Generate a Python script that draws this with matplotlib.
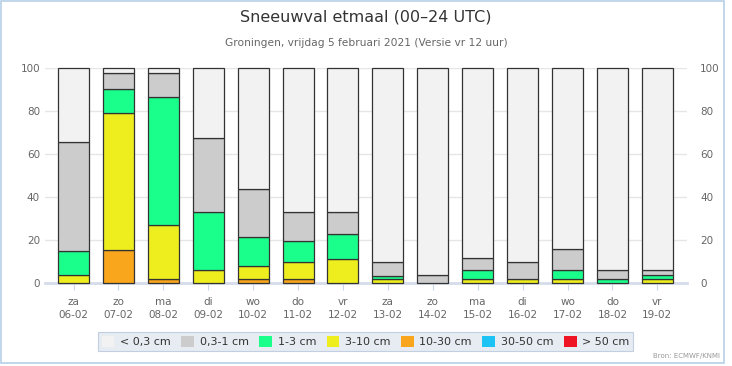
import matplotlib.pyplot as plt
import numpy as np
from matplotlib.patches import Patch, Rectangle

DAYS = ["za", "zo", "ma", "di", "wo", "do", "vr", "za", "zo", "ma", "di", "wo", "do", "vr"]
DATES = ["06-02", "07-02", "08-02", "09-02", "10-02", "11-02", "12-02",
         "13-02", "14-02", "15-02", "16-02", "17-02", "18-02", "19-02"]

# percentage per class, per day
LT_03 = [34.5, 2, 2, 32.5, 56, 67, 67, 90, 96, 88, 90, 84, 94, 94]
CM_03_1 = [50.5, 7.5, 11.5, 34.5, 22.5, 13.5, 10, 6.5, 4, 6, 8, 10, 4, 2]
CM_1_3 = [11, 11.5, 59.5, 27, 13.5, 9.5, 11.5, 1.5, 0, 4, 0, 4, 2, 2]
CM_3_10 = [4, 63.5, 25, 6, 6, 8, 11.5, 2, 0, 2, 2, 2, 0, 2]
CM_10_30 = [0, 15.5, 2, 0, 2, 2, 0, 0, 0, 0, 0, 0, 0, 0]
CM_30_50 = [0] * 14
GT_50 = [0] * 14

CLASS_LABELS = ["< 0,3 cm", "0,3-1 cm", "1-3 cm", "3-10 cm", "10-30 cm", "30-50 cm", "> 50 cm"]
CLASS_COLORS = ["#f2f2f2", "#cccccc", "#1aff8c", "#eeee1e", "#f9a61c", "#1ec3f5", "#ee1423"]

TEXT_GREY = "#666666"

fig = plt.figure(figsize=(7.32, 3.66), dpi=100)
ax = fig.add_axes([45 / 732, 82.7 / 366, 642 / 732, 215 / 366])

x = np.arange(len(DAYS))
# stacking order: largest snowfall at the bottom
stack = [GT_50, CM_30_50, CM_10_30, CM_3_10, CM_1_3, CM_03_1, LT_03]
stack_colors = CLASS_COLORS[::-1]
bottom = np.zeros(len(DAYS))
for values, color in zip(stack, stack_colors):
    values = np.array(values, dtype=float)
    mask = values > 0
    ax.bar(x[mask], values[mask], bottom=bottom[mask], width=0.69, color=color,
           edgecolor="#333333", linewidth=0.9, zorder=3, clip_on=False)
    bottom += values

ax.set_xlim(-0.635, 13.66)
ax.set_ylim(0, 100)
ax.set_yticks(range(0, 101, 20))
ax.grid(axis="y", color="#e6e6e6", linewidth=1, zorder=0)
for side in ["left", "right", "top"]:
    ax.spines[side].set_visible(False)
ax.spines["bottom"].set_color("#d5dcea")
ax.spines["bottom"].set_linewidth(2)
ax.spines["bottom"].set_zorder(2)

ax.set_xticks(x)
ax.set_xticklabels([f"{d}\n{dt}" for d, dt in zip(DAYS, DATES)], linespacing=1.3)
ax.tick_params(axis="x", length=5, color="#ccd6eb", pad=5, labelsize=7.5, labelcolor=TEXT_GREY)
ax.tick_params(axis="y", length=0, pad=3.6, labelsize=7.5, labelcolor=TEXT_GREY)

ax2 = ax.twinx()
ax2.set_ylim(0, 100)
ax2.set_yticks(range(0, 101, 20))
ax2.tick_params(axis="y", length=0, pad=9.4, labelsize=7.5, labelcolor=TEXT_GREY)
for side in ax2.spines:
    ax2.spines[side].set_visible(False)

fig.text(0.5, 1 - 17 / 366, "Sneeuwval etmaal (00–24 UTC)", ha="center", va="center",
         fontsize=11.5, color="#333333")
fig.text(0.5, 1 - 43 / 366, "Groningen, vrijdag 5 februari 2021 (Versie vr 12 uur)",
         ha="center", va="center", fontsize=7.7, color=TEXT_GREY)

handles = [Patch(facecolor=c, edgecolor="none") for c in CLASS_COLORS]
leg = fig.legend(handles, CLASS_LABELS, loc="center", bbox_to_anchor=(0.4993, 24.5 / 366),
                 ncol=7, fontsize=8, frameon=True, fancybox=False, handlelength=1.15,
                 handleheight=1.1, handletextpad=0.5, columnspacing=0.95, borderpad=0.35)
leg.get_frame().set_facecolor("#e2e8f1")
leg.get_frame().set_edgecolor("#b8c6dc")
leg.get_frame().set_linewidth(0.8)
for t in leg.get_texts():
    t.set_color("#333333")

fig.text(720 / 732, 1 - 356 / 366, "Bron: ECMWF/KNMI", ha="right", va="center",
         fontsize=5, color="#999999")

fig.patches.append(Rectangle((0.5 / 732, 3 / 366), 723 / 732, 362 / 366,
                             transform=fig.transFigure, fill=False,
                             edgecolor="#b8cfe6", linewidth=1.2))

fig.savefig("out.png", dpi=100)
